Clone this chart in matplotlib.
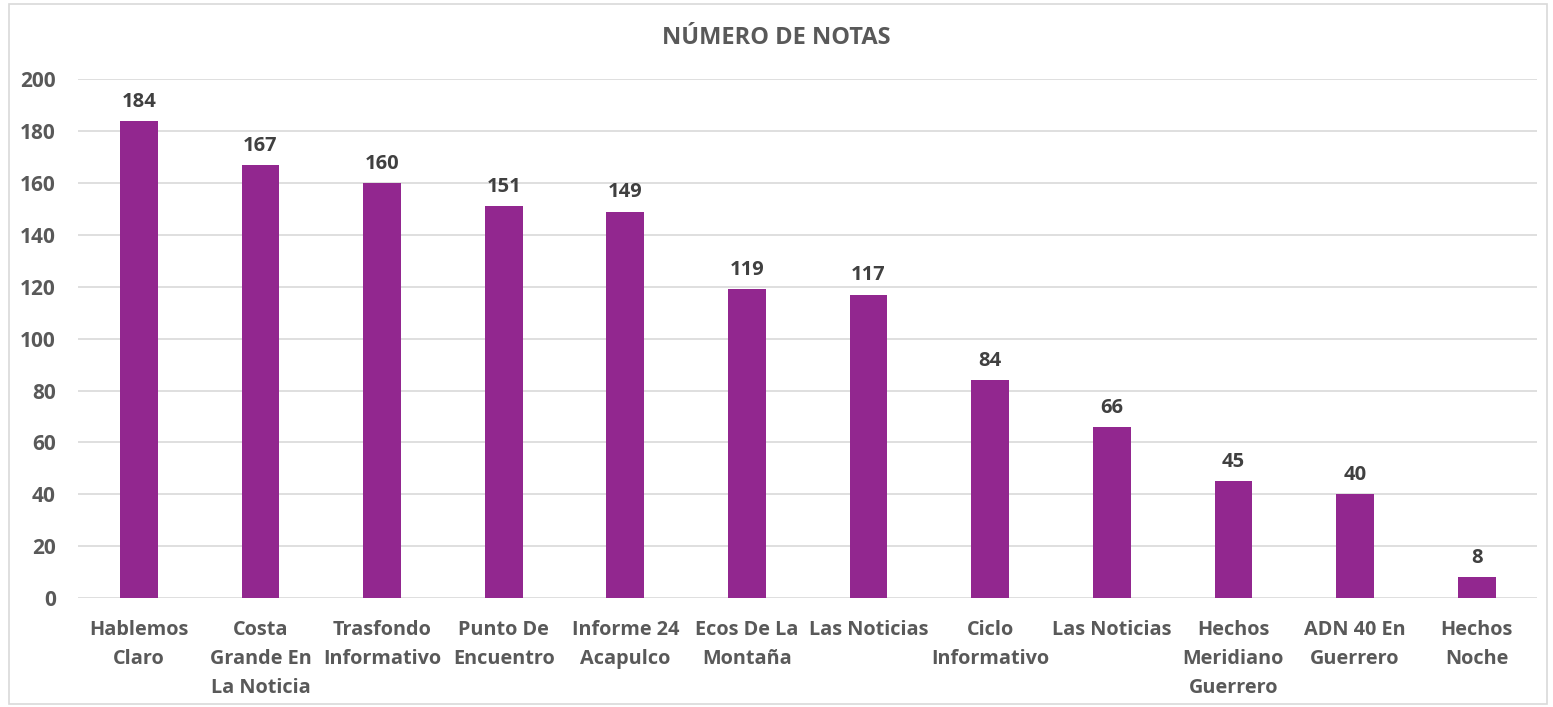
import matplotlib.pyplot as plt
from matplotlib.patches import Rectangle

# Datos
programas = ['Hablemos\nClaro', 'Costa\nGrande En\nLa Noticia', 'Trasfondo\nInformativo',
             'Punto De\nEncuentro', 'Informe 24\nAcapulco', 'Ecos De La\nMontaña',
             'Las Noticias', 'Ciclo\nInformativo', 'Las Noticias', 'Hechos\nMeridiano\nGuerrero',
             'ADN 40 En\nGuerrero', 'Hechos\nNoche']
notas = [184, 167, 160, 151, 149, 119, 117, 84, 66, 45, 40, 8]
yticks = [0, 20, 40, 60, 80, 100, 120, 140, 160, 180, 200]

gris = '#595959'
morado = '#92278F'
plt.rcParams['font.family'] = ['Open Sans', 'DejaVu Sans']

fig = plt.figure(figsize=(15.53, 7.07), dpi=100)
ax = fig.add_axes([0.0502, 0.154, 0.9398, 0.734])

# borde del grafico
fig.patches.append(Rectangle((0.006, 0.004), 0.99, 0.99, transform=fig.transFigure,
                             fill=False, edgecolor='#d9d9d9', linewidth=1.2))

x = range(len(notas))
ax.bar(x, notas, width=0.31, color=morado, zorder=3)
for i, v in enumerate(notas):
    ax.text(i, v + 3.5, str(v), ha='center', va='bottom', fontsize=14.5,
            fontweight='bold', color='#404040')

ax.set_xlim(-0.5, len(notas) - 0.5)
ax.set_ylim(0, 200)
ax.set_yticks(yticks)
ax.set_yticklabels([str(t) for t in yticks], fontsize=15, fontweight='bold', color=gris)
ax.set_xticks(list(x))
ax.set_xticklabels(programas, fontsize=14.3, fontweight='bold', color=gris, linespacing=1.58,
                   va='top')
ax.tick_params(axis='both', length=0)
ax.tick_params(axis='y', pad=16)
ax.tick_params(axis='x', pad=16)
ax.grid(axis='y', color='#d9d9d9', linewidth=1.2, zorder=0)
for s in ax.spines.values():
    s.set_visible(False)

fig.text(0.5, 0.946, 'NÚMERO DE NOTAS', ha='center', va='center', fontsize=17,
         fontweight='bold', color=gris)

fig.savefig('out.png', dpi=100)
